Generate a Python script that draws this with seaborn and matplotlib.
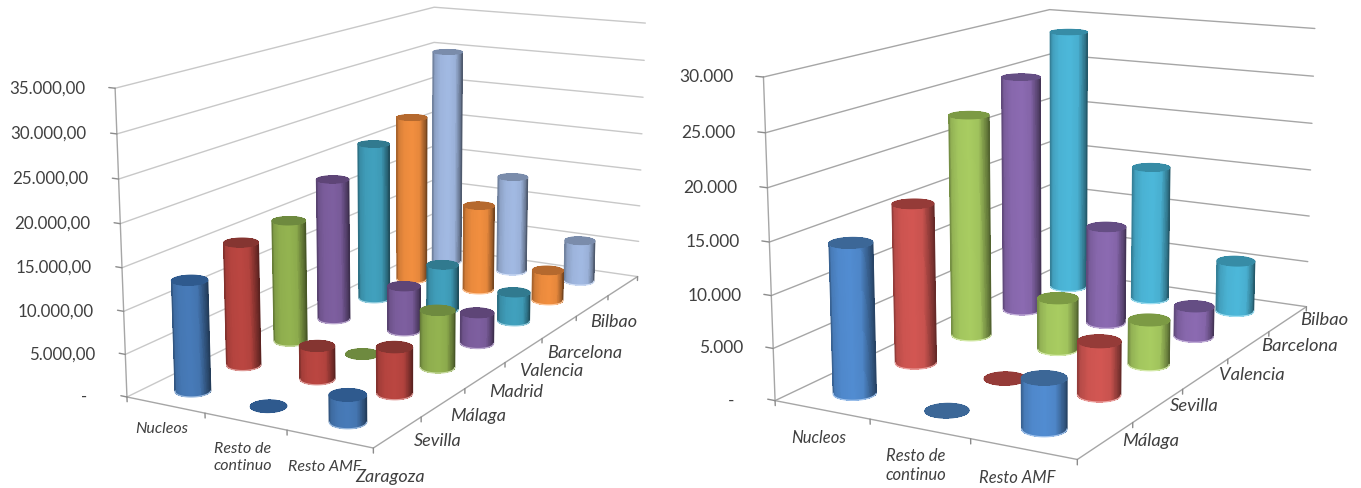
import numpy as np
import matplotlib
matplotlib.use("Agg")
import matplotlib.pyplot as plt
import seaborn as sns
from mpl_toolkits.mplot3d import proj3d

# Resource totals by network segment and city, left chart
left_segments = ["Nucleos", "Resto de\ncontinuo", "Resto AMF"]
left_cities = ["Zaragoza", "Sevilla", "Málaga", "Madrid", "Valencia", "Barcelona", "Bilbao"]
left_nucleos = [13000, 14900, 15200, 18200, 20800, 22500, 29900]
left_continuo = [0, 4000, 0, 5800, 6000, 11600, 13400]
left_amf = [3100, 5500, 7000, 3900, 3800, 4100, 5700]
left_ticks = [0, 5000, 10000, 15000, 20000, 25000, 30000, 35000]
left_ticklabels = ["-", "5.000,00", "10.000,00", "15.000,00", "20.000,00",
                   "25.000,00", "30.000,00", "35.000,00"]

# Same breakdown for the five cities of the right chart
right_segments = ["Nucleos", "Resto de\ncontinuo", "Resto AMF"]
right_cities = ["Málaga", "Sevilla", "Valencia", "Barcelona", "Bilbao"]
right_nucleos = [14400, 15900, 22800, 25100, 28500]
right_continuo = [0, 0, 5300, 10300, 14600]
right_amf = [4700, 5200, 4500, 3200, 5500]
right_ticks = [0, 5000, 10000, 15000, 20000, 25000, 30000]
right_ticklabels = ["-", "5.000", "10.000", "15.000", "20.000", "25.000", "30.000"]

left_colors = sns.color_palette(["#4577b3", "#b5443f", "#8fae4e", "#7a5c9b",
                                 "#3f9cb8", "#ea8a3d", "#9db4dc"])
left_caps = sns.color_palette(["#2f5a8e", "#853531", "#6e8a3f", "#5e4577",
                               "#317a8f", "#b5692e", "#7a8cab"])
right_colors = sns.color_palette(["#4f88cb", "#cc5450", "#a3c65e", "#8767ac", "#4ab2d3"])
right_caps = sns.color_palette(["#3c6797", "#953b38", "#7c9a44", "#654e84", "#378ca6"])

sns.set_theme(style="white", font="Lato")
plt.rcParams["font.family"] = ["Lato", "DejaVu Sans"]

FIG_W, FIG_H = 1361, 488
RADIUS = 0.19
COLUMN_STEP = 0.96
TEXT = "#404040"
fig = plt.figure(figsize=(FIG_W / 100, FIG_H / 100), dpi=100, facecolor="white")


def cylinder(ax, x, y, h, rgb, cap, az, rank):
    """One cylinder: shaded front half, a pale base rim and a flat darker top."""
    rim_t = np.radians(np.linspace(az - 90, az + 90, 64))
    if h > 0:
        zz = np.array([0.0, h])
        tt, zg = np.meshgrid(rim_t, zz)
        off = np.sin(tt - np.radians(az))
        gain = np.interp(off, [-1, -0.85, -0.5, 0, 0.45, 0.75, 1],
                         [0.72, 0.9, 1.0, 1.03, 0.98, 0.72, 0.5])
        faces = np.clip(np.dstack([gain * c for c in rgb]), 0, 1)
        ax.plot_surface(x + RADIUS * np.cos(tt), y + RADIUS * np.sin(tt), zg,
                        facecolors=faces, rcount=2, ccount=64, shade=False,
                        linewidth=0, antialiased=False, zorder=rank)
        # Antialiased silhouette edges hide the stair-stepping of the facets
        for side, g in ((rim_t[0], 0.72), (rim_t[-1], 0.5)):
            ax.plot([x + RADIUS * np.cos(side)] * 2, [y + RADIUS * np.sin(side)] * 2, [0, h],
                    color=tuple(g * c for c in rgb), lw=1.0, zorder=rank + 0.2)
        pale = tuple(min(1, c * 0.6 + 0.45) for c in rgb)
        ax.plot(x + RADIUS * np.cos(rim_t), y + RADIUS * np.sin(rim_t), 0 * rim_t,
                color=pale, lw=0.9, zorder=rank + 0.5)
    ring = np.radians(np.linspace(0, 360, 73))
    rr = np.array([0.0, RADIUS])
    tt, rg = np.meshgrid(ring, rr)
    ax.plot_surface(x + rg * np.cos(tt), y + rg * np.sin(tt), np.full_like(tt, h),
                    color=cap, rcount=2, ccount=72, shade=False,
                    linewidth=0, antialiased=False, zorder=rank + 1)
    ax.plot(x + RADIUS * np.cos(ring), y + RADIUS * np.sin(ring), 0 * ring + h,
            color=cap, lw=0.9, zorder=rank + 1.2)


def chart(view, origin, scale, rows, segments, cities, ticks, ticklabels,
          colors, caps, seg_shift, city_shift, tick_shift, zero_shift,
          seg_size, city_size, val_size, grid_color, depth_step):
    elev, azim, focal, ry, rz = view
    nx, ny = len(rows), len(cities)
    top = ticks[-1]
    ax = fig.add_subplot(projection="3d", computed_zorder=False)
    ax.set_xlim(0, nx)
    ax.set_ylim(0, ny)
    ax.set_zlim(0, top)
    ax.set_proj_type("persp", focal_length=focal)
    ax.view_init(elev=elev, azim=azim)
    ax.set_box_aspect((1, ry, rz))
    ax.set_axis_off()
    ax.patch.set_visible(False)

    # Place the axes so one projection unit spans `scale` pixels around the origin
    x0, x1 = ax.viewLim.intervalx
    y0, y1 = ax.viewLim.intervaly
    w = scale * (x1 - x0)
    ax.set_position([(origin[0] + x0 * scale) / FIG_W,
                     (FIG_H - origin[1] + y0 * scale) / FIG_H,
                     w / FIG_W, w / FIG_H])

    # Gridlines on the side and rear walls
    for z in ticks:
        ax.plot([0, 0, nx], [0, ny, ny], [z, z, z], color=grid_color, lw=1.0, zorder=1)
    ax.plot([0, nx, nx], [0, 0, ny], [0, 0, 0], color="#a6a6a6", lw=1.0, zorder=2)
    ax.plot([0, 0], [0, 0], [0, top], color="#a6a6a6", lw=1.0, zorder=2)
    for z in ticks:
        ax.plot([-0.08, 0], [0, 0], [z, z], color="#8c8c8c", lw=1.0, zorder=2)
    stub = -top * 0.016
    for i in range(nx + 1):
        ax.plot([i, i], [0, 0], [stub, 0], color="#8c8c8c", lw=1.0, zorder=2)
    for j in range(1, ny + 1):
        ax.plot([nx, nx], [j, j], [stub, 0], color="#8c8c8c", lw=1.0, zorder=2)

    # Paint the cylinders from the farthest to the nearest
    az = azim
    cam = np.array([np.cos(np.radians(az)) / nx, np.sin(np.radians(az)) * ry / ny])
    cells = sorted(((i, j) for i in range(nx) for j in range(ny)),
                   key=lambda c: cam[0] * (c[0] + .5) + cam[1] * (c[1] + .5))
    for k, (i, j) in enumerate(cells):
        cylinder(ax, .5 + COLUMN_STEP * i, .5 + depth_step * j, rows[i][j],
                 colors[j], caps[j], az, 10 + 3 * k)

    M = ax.get_proj()

    def label(text, xyz, shift, **kw):
        px, py, _ = proj3d.proj_transform(*xyz, M)
        ax.annotate(text, (float(px), float(py)), xytext=shift, textcoords="offset pixels",
                    annotation_clip=False, color=TEXT, zorder=1000, **kw)

    for z, text in zip(ticks, ticklabels):
        dx = zero_shift if z == 0 else tick_shift
        label(text, (0, 0, z), (dx, 0), ha="right", va="center", fontsize=val_size)
    for i, text in enumerate(segments):
        label(text, (i + .5, 0, 0), seg_shift[i], ha="center", va="center",
              fontsize=seg_size, style="italic", linespacing=1.25)
    for j, text in enumerate(cities):
        label(text, (nx, j + .5, 0), city_shift[j], ha="center", va="center",
              fontsize=city_size, style="italic")


chart((13.6489, -61.0655, 0.4929, 2.2811, 1.1014), (408.414, 193.971), 3716.236,
      [left_nucleos, left_continuo, left_amf], left_segments, left_cities,
      left_ticks, left_ticklabels, left_colors, left_caps,
      seg_shift=[(-4, -24), (-3, -36), (-5, -28)],
      city_shift=[(-8, -45), (-6, -38), (-7, -41), (-8, -42), (-8, -44), (-8, -47), (-9, -36)],
      tick_shift=-30, zero_shift=-40, seg_size=11.5, city_size=13, val_size=12.2,
      grid_color="#c8c8c8", depth_step=0.988)

chart((13.1934, -61.385, 0.526, 1.6568, 0.9548), (1061.55, 203.118), 3643.342,
      [right_nucleos, right_continuo, right_amf], right_segments, right_cities,
      right_ticks, right_ticklabels, right_colors, right_caps,
      seg_shift=[(-3, -28), (-4, -37), (-6, -29)],
      city_shift=[(45, -1), (36, -1), (46, -1), (51, -1), (36, -1)],
      tick_shift=-30, zero_shift=-41, seg_size=12, city_size=13.2, val_size=12.5,
      grid_color="#a6a6a6", depth_step=1.0)

fig.savefig("out.png", dpi=100, facecolor="white")
